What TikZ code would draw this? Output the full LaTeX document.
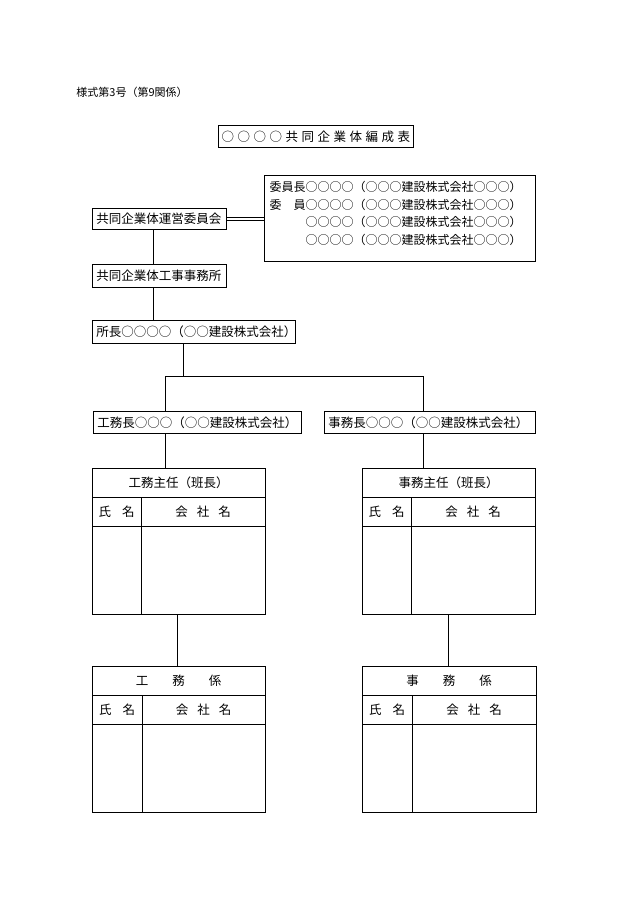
\documentclass[tikz,border=0pt]{standalone}
\usepackage{fontspec}
\setmainfont{Noto Sans CJK JP}
\newfontfamily\spacedfont[LetterSpace=28]{Noto Sans CJK JP}
\begin{document}
\begin{tikzpicture}[x=1pt,y=-1pt,line width=0.9pt,
  box/.style={draw,anchor=north west,inner xsep=4pt,inner ysep=0pt,align=left,font=\fontsize{12.5}{14}\selectfont},
  tbl/.style={draw,anchor=north west,inner sep=0pt},
  cell/.style={font=\fontsize{12.5}{14}\selectfont,inner sep=0pt}]
\useasboundingbox (0,0) rectangle (630,915);
\node[anchor=west,font=\fontsize{11}{13}\selectfont,inner sep=0pt] (hdr) at (76,92) {様式第3号（第9関係）};
\node[draw,anchor=north west,minimum width=195pt,minimum height=22pt,inner sep=0pt,font=\spacedfont\fontsize{12.5}{14}\selectfont] (title) at (218,125) {○○○○共同企業体編成表\hspace{-3pt}};
% committee
\node[draw,anchor=north west,minimum width=271pt,minimum height=86pt,inner sep=0pt] (comm) at (264,175) {};
\node[anchor=north east,align=right,inner sep=0pt,font=\fontsize{12}{17.5}\selectfont] (commtxt) at (522,181) {委員長○○○○（○○○建設株式会社○○○）\\委\hspace{12pt}員○○○○（○○○建設株式会社○○○）\\○○○○（○○○建設株式会社○○○）\\○○○○（○○○建設株式会社○○○）};
\node[box,text width=126pt,minimum height=21pt] (unei) at (92,208) {共同企業体運営委員会};
\node[box,text width=126pt,minimum height=23pt] (jimusho) at (92,264) {共同企業体工事事務所};
\node[box,text width=195pt,minimum height=23pt] (shocho) at (92,320) {所長○○○○（○○建設株式会社）};
\node[box,text width=200pt,minimum height=22pt] (komucho) at (93,411) {工務長○○○（○○建設株式会社）};
\node[box,text width=203pt,minimum height=22pt] (jimucho) at (324,411) {事務長○○○（○○建設株式会社）};
% connectors
\draw ([yshift=-1.2pt]unei.east) -- ([yshift=-1.2pt]unei.east -| comm.west);
\draw ([yshift=1.2pt]unei.east) -- ([yshift=1.2pt]unei.east -| comm.west);
\draw (unei.south -| 153,0) -- (jimusho.north -| 153,0);
\draw (jimusho.south -| 153,0) -- (shocho.north -| 153,0);
\coordinate (hl) at (165,376);
\coordinate (hr) at (423,376);
\draw (shocho.south -| 183,0) -- (183,376);
\draw (hl) -- (hr);
\draw (hl) -- (komucho.north -| hl);
\draw (hr) -- (jimucho.north -| hr);
% tables
\foreach \n/\x/\y/\w/\s/\t in {t1/92/468/173/49/工務主任（班長）,t2/362/468/173/49/事務主任（班長）,t3/92/666/173/50/工\hspace{24pt}務\hspace{24pt}係,t4/362/666/174/50/事\hspace{24pt}務\hspace{24pt}係}{
  \node[tbl,minimum width=\w pt,minimum height=146pt] (\n) at (\x,\y) {};
  \draw (\x,\y+29) -- +(\w,0);
  \draw (\x,\y+58) -- +(\w,0);
  \draw (\x+\s,\y+29) -- (\x+\s,\y+146);
  \node[cell] (\n h) at (\x+\w/2,\y+14.5) {\t};
  \node[cell] (\n a) at (\x+\s/2,\y+43.5) {氏\hspace{11pt}名};
  \node[cell] (\n b) at (\x+\s/2+\w/2,\y+43.5) {会\hspace{9pt}社\hspace{9pt}名};
}
\draw (komucho.south -| hl) -- (t1.north -| hl);
\draw (jimucho.south -| hr) -- (t2.north -| hr);
\draw (t1.south -| 177,0) -- (t3.north -| 177,0);
\draw (t2.south -| 448,0) -- (t4.north -| 448,0);
\end{tikzpicture}
\end{document}
